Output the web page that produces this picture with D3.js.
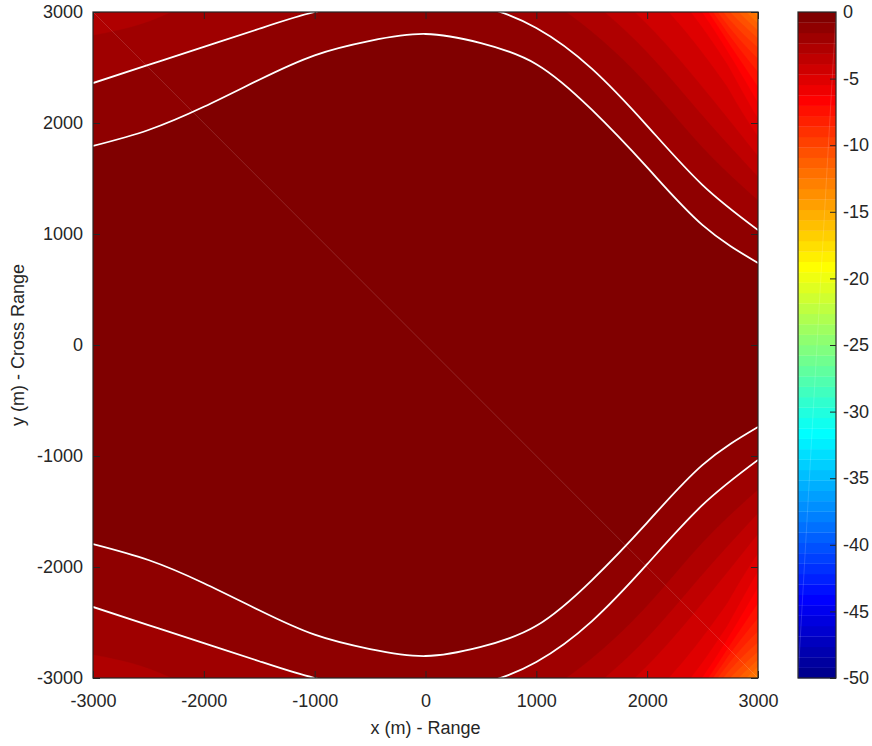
<!DOCTYPE html>
<html>
<head>
<meta charset="utf-8">
<script src="https://cdn.jsdelivr.net/npm/d3@7"></script>
<style>
  body { margin: 0; background: #fff; }
  text { font-family: "Liberation Sans", Arial, sans-serif; fill: #262626; }
</style>
</head>
<body>
<svg id="chart" width="872" height="746"></svg>
<script>
// Range positions (m) at which the beam half-widths are given
const xCols = [-3000, -2500, -2000, -1500, -1000, -500, 0, 500, 1000, 1500, 2000, 2500, 3000];

// Gain levels (dB) and the cross-range half-width (m) at which each level is reached
const levelDb = [-0.78125, -1.5625, -2.34375, -3.90625, -6.25, -10.15625, -20];
const halfWidthL1 = [1793, 1937, 2146, 2390, 2610, 2740, 2802, 2720, 2530, 2120, 1600, 1080, 739];
const halfWidthL2 = [2360, 2523, 2686, 2849, 3000, 3080, 3094, 3048, 2856, 2490, 1975, 1441, 1036];
const halfWidthL3 = [2788, 2912, 3113, 3202, 3281, 3318, 3279, 3257, 3150, 2821, 2346, 1778, 1301];
const halfWidthL4 = [3424, 3519, 3688, 3684, 3666, 3632, 3526, 3542, 3600, 3324, 2888, 2320, 1700];
const halfWidthL5 = [4136, 4190, 4310, 4190, 4058, 3948, 3772, 3825, 4200, 3900, 3550, 2990, 2180];
const halfWidthL6 = [4800, 4900, 5000, 4800, 4600, 4400, 4200, 4300, 4900, 4600, 4100, 3300, 2760];
const halfWidthL7 = [6000, 6100, 6200, 5900, 5600, 5300, 5000, 5200, 6000, 5800, 5200, 4300, 3450];
const halfWidths = [halfWidthL1, halfWidthL2, halfWidthL3, halfWidthL4, halfWidthL5, halfWidthL6, halfWidthL7];

const xTicks = [-3000, -2000, -1000, 0, 1000, 2000, 3000];
const yTicks = [-3000, -2000, -1000, 0, 1000, 2000, 3000];
const cbTicks = [0, -5, -10, -15, -20, -25, -30, -35, -40, -45, -50];
const colorLimits = [-50, 0];
const nColors = 64;
const whiteLines = [halfWidthL1, halfWidthL2];

const svg = d3.select("#chart");
const plot = { left: 93, right: 758, top: 12, bottom: 678 };
const cbar = { left: 798, right: 836, top: 12, bottom: 678 };
const axisColor = "#262626";
const fontSize = "18px";

const x = d3.scaleLinear().domain([-3000, 3000]).range([plot.left, plot.right]);
const y = d3.scaleLinear().domain([-3000, 3000]).range([plot.bottom, plot.top]);

// MATLAB-style jet colormap
function jet(m) {
  const n = Math.ceil(m / 4);
  const u = [];
  for (let i = 1; i <= n; i++) u.push(i / n);
  for (let i = 1; i < n; i++) u.push(1);
  for (let i = n; i >= 1; i--) u.push(i / n);
  const g0 = Math.ceil(n / 2) - (m % 4 === 1 ? 1 : 0);
  const cols = Array.from({ length: m }, () => [0, 0, 0]);
  u.forEach((v, k) => {
    const g = g0 + k + 1, r = g + n, b = g - n;
    if (g >= 1 && g <= m) cols[g - 1][1] = v;
    if (r >= 1 && r <= m) cols[r - 1][0] = v;
    if (b >= 1 && b <= m) cols[b - 1][2] = v;
  });
  return cols.map(c => d3.rgb(c[0] * 255, c[1] * 255, c[2] * 255).formatHex());
}
const colors = jet(nColors);
const levelStep = (colorLimits[1] - colorLimits[0]) / nColors;
const fillLevels = d3.range(nColors).map(k => colorLimits[0] + k * levelStep);

// Natural cubic spline of a half-width row along range (same curve as d3.curveNatural)
const nc = xCols.length;
const dx = xCols[1] - xCols[0];
function naturalSpline(row) {
  const n = row.length - 1;
  const M = new Array(n + 1).fill(0);
  const a = [], b = [], c = [], r = [];
  for (let i = 1; i < n; i++) {
    a.push(1); b.push(4); c.push(1);
    r.push(6 * (row[i + 1] - 2 * row[i] + row[i - 1]) / (dx * dx));
  }
  const m = r.length;
  for (let i = 1; i < m; i++) {
    const w = a[i] / b[i - 1];
    b[i] -= w * c[i - 1];
    r[i] -= w * r[i - 1];
  }
  const sol = new Array(m);
  sol[m - 1] = r[m - 1] / b[m - 1];
  for (let i = m - 2; i >= 0; i--) sol[i] = (r[i] - c[i] * sol[i + 1]) / b[i];
  for (let i = 1; i < n; i++) M[i] = sol[i - 1];
  return xv => {
    const g = (xv - xCols[0]) / dx;
    const i = Math.min(Math.max(Math.floor(g), 0), n - 1);
    const t = g - i, u = 1 - t;
    return u * row[i] + t * row[i + 1]
      + ((u * u * u - u) * M[i] + (t * t * t - t) * M[i + 1]) * dx * dx / 6;
  };
}
const widthFns = halfWidths.map(naturalSpline);

// Monotone cubic gain profile across y for one range column
function profile(ws) {
  const Y = [0, ...ws], F = [0, ...levelDb];
  const n = Y.length;
  const h = d3.range(n - 1).map(k => Y[k + 1] - Y[k]);
  const s = d3.range(n - 1).map(k => (F[k + 1] - F[k]) / h[k]);
  const m = new Array(n).fill(0);
  for (let k = 1; k < n - 1; k++) {
    if (s[k - 1] * s[k] <= 0) continue;
    const p = (s[k - 1] * h[k] + s[k] * h[k - 1]) / (h[k - 1] + h[k]);
    m[k] = Math.sign(s[k]) * Math.min(Math.abs(s[k - 1]), Math.abs(s[k]), 0.5 * Math.abs(p)) * 2;
  }
  m[n - 1] = s[n - 2];
  return ay => {
    if (ay >= Y[n - 1]) return F[n - 1] + m[n - 1] * (ay - Y[n - 1]);
    let k = 0;
    while (k < n - 2 && ay > Y[k + 1]) k++;
    const t = (ay - Y[k]) / h[k], t2 = t * t, t3 = t2 * t;
    return (2 * t3 - 3 * t2 + 1) * F[k] + (t3 - 2 * t2 + t) * h[k] * m[k]
      + (-2 * t3 + 3 * t2) * F[k + 1] + (t3 - t2) * h[k] * m[k + 1];
  };
}

const N = 301;
const xs = d3.range(N).map(i => -3000 + i * 6000 / (N - 1));
const ys = d3.range(N).map(j => 3000 - j * 6000 / (N - 1));
const field = new Float64Array(N * N);
for (let i = 0; i < N; i++) {
  const g = profile(widthFns.map(f => f(xs[i])));
  for (let j = 0; j < N; j++) field[j * N + i] = g(Math.abs(ys[j]));
}

// contour grid coordinates -> pixels
const gxScale = d3.scaleLinear().domain([0.5, N - 0.5]).range([x(xs[0]), x(xs[N - 1])]);
const gyScale = d3.scaleLinear().domain([0.5, N - 0.5]).range([y(ys[0]), y(ys[N - 1])]);
const proj = d3.geoTransform({ point(px, py) { this.stream.point(gxScale(px), gyScale(py)); } });
const path = d3.geoPath(proj);

svg.append("defs").append("clipPath").attr("id", "plotClip")
  .append("rect").attr("x", plot.left).attr("y", plot.top)
  .attr("width", plot.right - plot.left).attr("height", plot.bottom - plot.top);

const gPlot = svg.append("g").attr("clip-path", "url(#plotClip)");

const filled = d3.contours().size([N, N]).thresholds(fillLevels)(field);
gPlot.selectAll("path.band").data(filled).join("path")
  .attr("class", "band")
  .attr("d", path)
  .attr("fill", (d, k) => colors[k])
  .attr("stroke", (d, k) => colors[k])
  .attr("stroke-width", 0.4);

// white contour lines at the first two levels, upper and lower branches
const edgeLine = d3.line()
  .x(d => x(d[0])).y(d => y(d[1]))
  .curve(d3.curveNatural);
const branches = [];
whiteLines.forEach(row => {
  branches.push(xCols.map((xc, i) => [xc, row[i]]));
  branches.push(xCols.map((xc, i) => [xc, -row[i]]));
});
gPlot.selectAll("path.level").data(branches).join("path")
  .attr("class", "level")
  .attr("d", edgeLine)
  .attr("fill", "none")
  .attr("stroke", "#fff")
  .attr("stroke-width", 1.8);

// faint diagonal seam across the surface
gPlot.append("line")
  .attr("x1", x(-3000)).attr("y1", y(3000))
  .attr("x2", x(3000)).attr("y2", y(-3000))
  .attr("stroke", "#fff").attr("stroke-opacity", 0.15).attr("stroke-width", 1);

// axes with inward ticks on all four sides
const plain = d => String(d);
function styleAxis(g) {
  g.select(".domain").remove();
  g.selectAll(".tick line").attr("stroke", axisColor);
  g.selectAll(".tick text").attr("fill", axisColor).attr("font-family", null).style("font-size", fontSize);
}
svg.append("g").attr("transform", `translate(0,${plot.bottom})`)
  .call(d3.axisBottom(x).tickValues(xTicks).tickFormat(plain).tickSize(-7).tickPadding(16).tickSizeOuter(0))
  .call(styleAxis);
svg.append("g").attr("transform", `translate(0,${plot.top})`)
  .call(d3.axisTop(x).tickValues(xTicks).tickSize(-7).tickFormat("").tickSizeOuter(0))
  .call(styleAxis);
svg.append("g").attr("transform", `translate(${plot.left},0)`)
  .call(d3.axisLeft(y).tickValues(yTicks).tickFormat(plain).tickSize(-7).tickPadding(10).tickSizeOuter(0))
  .call(styleAxis);
svg.append("g").attr("transform", `translate(${plot.right},0)`)
  .call(d3.axisRight(y).tickValues(yTicks).tickSize(-7).tickFormat("").tickSizeOuter(0))
  .call(styleAxis);

svg.append("rect")
  .attr("x", plot.left).attr("y", plot.top)
  .attr("width", plot.right - plot.left).attr("height", plot.bottom - plot.top)
  .attr("fill", "none").attr("stroke", axisColor).attr("stroke-width", 1.2);

// colour bar
const cy = d3.scaleLinear().domain(colorLimits).range([cbar.bottom, cbar.top]);
svg.append("g").selectAll("rect").data(fillLevels).join("rect")
  .attr("x", cbar.left).attr("width", cbar.right - cbar.left)
  .attr("y", d => cy(d + levelStep)).attr("height", d => cy(d) - cy(d + levelStep) + 0.3)
  .attr("fill", (d, k) => colors[k]);
svg.append("line")
  .attr("x1", cbar.right).attr("y1", cbar.top).attr("x2", cbar.left).attr("y2", cbar.bottom)
  .attr("stroke", "#fff").attr("stroke-opacity", 0.15).attr("stroke-width", 1);
svg.append("g").attr("transform", `translate(${cbar.right},0)`)
  .call(d3.axisRight(cy).tickValues(cbTicks).tickFormat(plain).tickSize(-6).tickPadding(7).tickSizeOuter(0))
  .call(styleAxis);
svg.append("rect")
  .attr("x", cbar.left).attr("y", cbar.top)
  .attr("width", cbar.right - cbar.left).attr("height", cbar.bottom - cbar.top)
  .attr("fill", "none").attr("stroke", axisColor).attr("stroke-width", 1.2);

// axis titles
svg.append("text").attr("x", (plot.left + plot.right) / 2).attr("y", 734)
  .attr("text-anchor", "middle").style("font-size", fontSize).text("x (m) - Range");
svg.append("text").attr("transform", `translate(24,${(plot.top + plot.bottom) / 2}) rotate(-90)`)
  .attr("text-anchor", "middle").style("font-size", fontSize).text("y (m) - Cross Range");
</script>
</body>
</html>
